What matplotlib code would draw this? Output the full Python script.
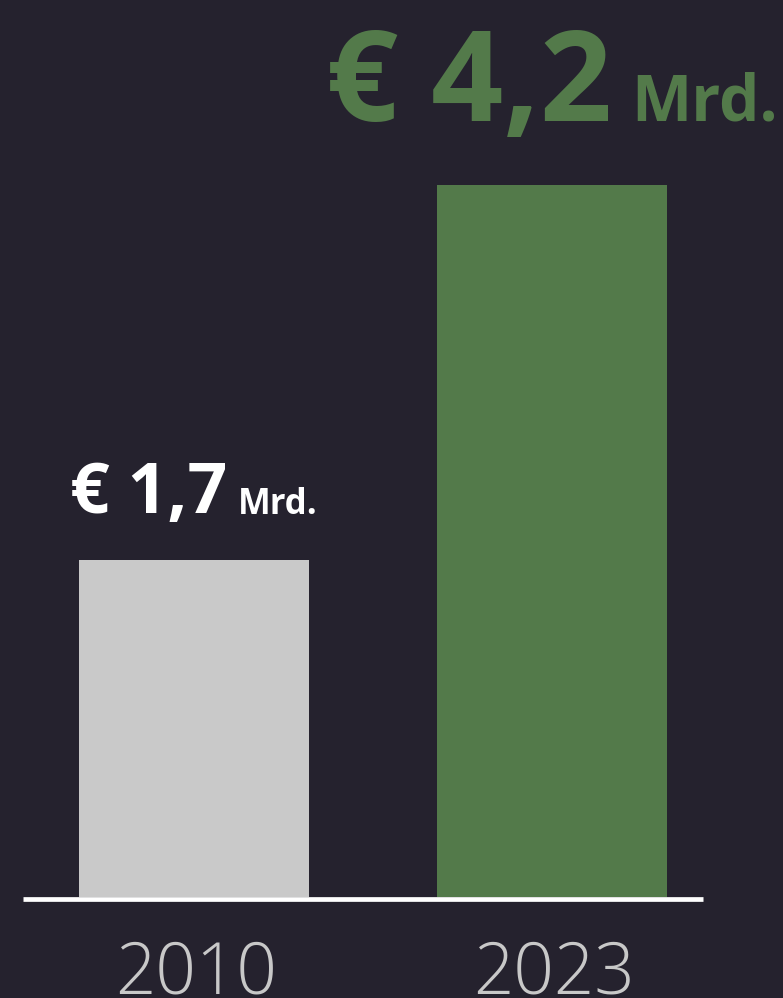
import matplotlib
matplotlib.use("Agg")
import matplotlib.pyplot as plt

years = ["2010", "2023"]
values = [1.7, 4.2]
value_text = ["€ 1,7", "€ 4,2"]
unit_text = "Mrd."

bg = "#25222e"
bar_colors = ["#c9c9c9", "#537a4a"]
label_colors = ["#ffffff", "#537a4a"]
big_sizes = [50, 91]
small_sizes = [25, 46]
label_gap = [46, 64]  # px above bar top

floor = -0.55  # value at the baseline line
px_per_unit = 150.0

plt.rcParams['font.family'] = ['Open Sans', 'DejaVu Sans']

fig = plt.figure(figsize=(7.83, 9.98), dpi=100, facecolor=bg)
ax = fig.add_axes([0, 0, 1, 1])
ax.set_facecolor(bg)
ax.axis("off")

x = [0, 1]
ax.set_xlim(-194 / 358, (783 - 194) / 358)
ax.set_ylim(floor - 101 / px_per_unit, floor + 897 / px_per_unit)

ax.bar(x, [v - floor for v in values], bottom=floor, width=230 / 358,
       color=bar_colors, zorder=2)
ax.hlines(floor - 2 / px_per_unit, -171 / 358, 509 / 358, color="white",
          linewidth=3.4, zorder=3)

renderer = fig.canvas.get_renderer()
for i in range(2):
    big = ax.annotate(value_text[i], xy=(x[i], values[i]), xytext=(0, label_gap[i]),
                      textcoords="offset pixels", ha="left", va="baseline",
                      fontsize=big_sizes[i], fontweight="bold", color=label_colors[i])
    small = ax.annotate(unit_text, xy=(x[i], values[i]), xytext=(0, label_gap[i]),
                        textcoords="offset pixels", ha="left", va="baseline",
                        fontsize=small_sizes[i], fontweight="bold", color=label_colors[i])
    wb = big.get_window_extent(renderer).width
    ws = small.get_window_extent(renderer).width
    gap = 0.15 * big_sizes[i] / 0.72
    total = wb + gap + ws
    big.set_position((-total / 2, label_gap[i]))
    small.set_position((-total / 2 + wb + gap, label_gap[i]))

for i in range(2):
    ax.annotate(years[i], xy=(x[i], floor), xytext=(2, -96),
                textcoords="offset pixels", ha="center", va="baseline",
                fontsize=51, fontweight="light", color="#c8c8c8")

fig.savefig("out.png", dpi=100, facecolor=bg)
